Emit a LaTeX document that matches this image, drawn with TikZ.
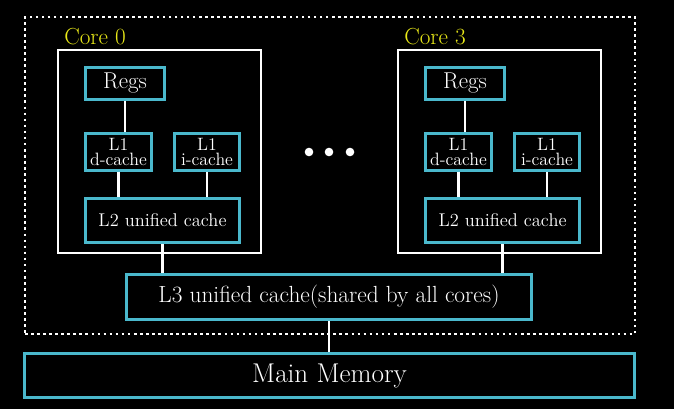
\documentclass[tikz,border=0pt]{standalone}
\usetikzlibrary{positioning}
\definecolor{cachecyan}{RGB}{74,184,204}
\definecolor{coreyellow}{RGB}{232,232,24}

\begin{document}
\begin{tikzpicture}[x=0.025cm,y=-0.025cm,
  sz/.style 2 args={minimum width=#1*0.025cm,minimum height=#2*0.025cm},
  cache/.style={draw=cachecyan,line width=2.1pt,text=white,align=center,inner sep=0pt},
  core/.style={draw=white,line width=1.5pt,inner sep=0pt},
  chip/.style={draw=white,line width=1.9pt,dash pattern=on 1.9pt off 2.4pt,inner sep=0pt},
  tag/.style={text=coreyellow,anchor=base west,inner sep=0pt,font=\fontsize{16.5}{19}\selectfont},
  link/.style={draw=white,line width=1.5pt}]
\fill[black] (0,0) rectangle (674,409);
\node[chip,sz={610}{317}] (cpu) at (330,175.5) {};
\node[core,sz={203}{203}] (core0) at (159.5,151.5) {};
\node[core,sz={203}{203}] (core3) at (499.5,151.5) {};
\node[tag] (t0) at (64,44) {Core 0};
\node[tag] (t3) at (404,44) {Core 3};
\node[cache,sz={79}{32},font=\fontsize{16.3}{19}\selectfont] (regs0) at (125,83.5) {Regs};
\node[cache,sz={66}{37},font=\fontsize{12.7}{10}\selectfont] (dc0) at (118.5,152) {L1\\d-cache};
\node[cache,sz={65}{37},font=\fontsize{12.7}{10}\selectfont] (ic0) at (207,152) {L1\\i-cache};
\node[cache,sz={154}{44},font=\fontsize{13.1}{16}\selectfont] (l2a) at (162.5,220.5) {L2 unified cache};
\node[cache,sz={79}{32},font=\fontsize{16.3}{19}\selectfont] (regs3) at (465,83.5) {Regs};
\node[cache,sz={66}{37},font=\fontsize{12.7}{10}\selectfont] (dc3) at (458.5,152) {L1\\d-cache};
\node[cache,sz={65}{37},font=\fontsize{12.7}{10}\selectfont] (ic3) at (547,152) {L1\\i-cache};
\node[cache,sz={154}{44},font=\fontsize{13.1}{16}\selectfont] (l2b) at (502.5,220.5) {L2 unified cache};
\node[cache,sz={405}{45},font=\fontsize{16.6}{19}\selectfont] (l3) at (329,297) {L3 unified cache(shared by all cores)};
\node[cache,sz={610}{44},font=\fontsize{19.3}{23}\selectfont] (mem) at (329.5,375.5) {Main Memory};
\foreach \x in {309,329,350}
  \fill[white] (\x,152) circle[radius=4.3];
\foreach \a/\b in {regs0/dc0,dc0/l2a,ic0/l2a,l2a/l3,regs3/dc3,dc3/l2b,ic3/l2b,l2b/l3,l3/mem}
  \draw[link] (\a.south)--(\a.south |- \b.north);
\end{tikzpicture}
\end{document}
